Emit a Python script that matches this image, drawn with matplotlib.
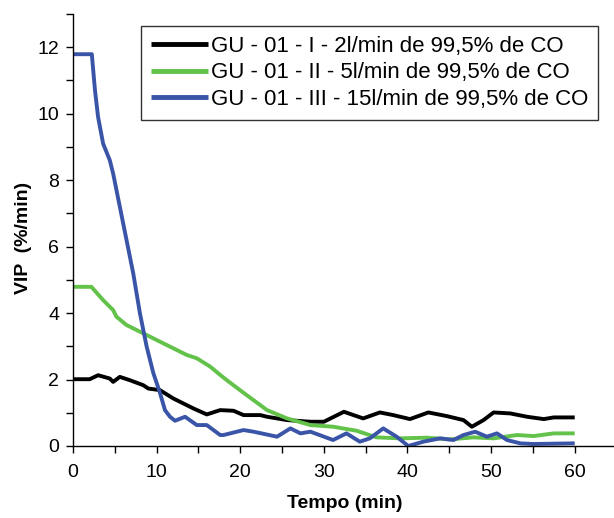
import matplotlib
matplotlib.use("Agg")
import matplotlib.pyplot as plt
from matplotlib.ticker import MultipleLocator

plt.rcParams['font.family'] = ['Liberation Sans', 'DejaVu Sans']

# Series 1: GU - 01 - I - 2 l/min
x1 = [0, 2.0, 3.0, 4.4, 4.8, 5.6, 6.8, 8.4, 9.0, 10.4, 12.0, 14.4, 16.0, 17.6, 19.2,
      20.4, 22.4, 23.2, 25.6, 28.4, 30.0, 32.4, 34.7, 36.7, 38.3, 40.3, 42.5, 44.7,
      46.7, 47.7, 49.1, 50.3, 52.3, 54.3, 56.3, 57.5, 60.0]
y1 = [2.01, 2.01, 2.13, 2.03, 1.93, 2.08, 1.98, 1.83, 1.73, 1.68, 1.43, 1.13, 0.95, 1.08, 1.06,
      0.93, 0.93, 0.88, 0.78, 0.73, 0.73, 1.03, 0.83, 1.01, 0.93, 0.81, 1.01, 0.90,
      0.78, 0.58, 0.78, 1.01, 0.98, 0.88, 0.81, 0.86, 0.86]

# Series 2: GU - 01 - II - 5 l/min
x2 = [0, 2.2, 3.6, 4.8, 5.2, 6.4, 8.0, 9.6, 10.8, 12.0, 13.6, 14.8, 16.4, 17.6, 18.4,
      20.4, 22.4, 23.2, 25.6, 28.4, 31.1, 33.9, 36.3, 39.1, 42.3, 45.1, 47.9, 50.3,
      53.1, 55.1, 57.5, 60.0]
y2 = [4.79, 4.79, 4.39, 4.09, 3.89, 3.64, 3.44, 3.24, 3.09, 2.94, 2.74, 2.64, 2.39, 2.14, 1.98,
      1.60, 1.23, 1.08, 0.83, 0.63, 0.58, 0.46, 0.26, 0.23, 0.25, 0.20, 0.26, 0.23,
      0.33, 0.30, 0.38, 0.38]

# Series 3: GU - 01 - III - 15 l/min
x3 = [0, 2.25, 2.63, 3.0, 3.6, 4.4, 4.8, 5.6, 6.4, 7.2, 8.0, 8.8, 9.6, 10.4, 11.0,
      11.6, 12.2, 13.4, 14.8, 16.0, 17.6, 18.0, 20.4, 21.6, 24.4, 26.0, 27.2, 28.4,
      31.1, 32.7, 34.3, 35.5, 37.1, 38.7, 40.1, 41.9, 43.9, 45.5, 46.7, 48.1, 49.5,
      50.7, 51.9, 53.5, 55.0, 60.0]
y3 = [11.79, 11.79, 10.7, 9.9, 9.1, 8.6, 8.2, 7.2, 6.2, 5.2, 4.0, 3.0, 2.2, 1.6, 1.08,
      0.88, 0.76, 0.88, 0.63, 0.63, 0.33, 0.33, 0.48, 0.43, 0.28, 0.53, 0.38, 0.43,
      0.18, 0.38, 0.13, 0.23, 0.53, 0.28, 0.0, 0.13, 0.23, 0.18, 0.33, 0.43, 0.28,
      0.38, 0.18, 0.08, 0.06, 0.08]

labels = ["GU - 01 - I - 2l/min de 99,5% de CO",
          "GU - 01 - II - 5l/min de 99,5% de CO",
          "GU - 01 - III - 15l/min de 99,5% de CO"]
colors = ["#000000", "#62c24a", "#3a55a8"]

fig = plt.figure(figsize=(6.14, 5.18), dpi=100)
ax = fig.add_axes([73/614, 1-446/518, 1-73/614, (446-14)/518])

for xs, ys, lab, c in zip([x1, x2, x3], [y1, y2, y3], labels, colors):
    ax.plot(xs, ys, color=c, lw=2.8, label=lab, solid_joinstyle='round',
            solid_capstyle='butt')

ax.set_xlim(0, 64.7)
ax.set_ylim(0, 13)
ax.spines['top'].set_visible(False)
ax.spines['right'].set_visible(False)
for s in ('left', 'bottom'):
    ax.spines[s].set_linewidth(1.0)
ax.xaxis.set_major_locator(MultipleLocator(10))
ax.xaxis.set_minor_locator(MultipleLocator(5))
ax.yaxis.set_major_locator(MultipleLocator(2))
ax.yaxis.set_minor_locator(MultipleLocator(1))
ax.tick_params(which='both', direction='out', length=5, width=1.0, labelsize=14)
ax.tick_params(axis='x', pad=8)
ax.tick_params(axis='y', pad=5)

ax.set_xlabel("Tempo (min)", fontsize=14, fontweight='bold')
ax.xaxis.set_label_coords((345 - 73) / 541, (446 - 495) / 432)
ax.set_ylabel("VIP  (%/min)", fontsize=14, fontweight='bold')
ax.yaxis.set_label_coords(-0.076, (446 - 238) / 432)

leg = ax.legend(loc='upper right', fontsize=16, frameon=True,
                fancybox=False, edgecolor='black', handlelength=2.6,
                handletextpad=0.1, borderpad=0.45, labelspacing=0.24, borderaxespad=0)
leg.get_frame().set_linewidth(1.0)
leg.set_bbox_to_anchor((598/614, 1-26/518), transform=fig.transFigure)
for h in leg.get_lines():
    h.set_linewidth(3.5)

fig.savefig("out.png", dpi=100)
